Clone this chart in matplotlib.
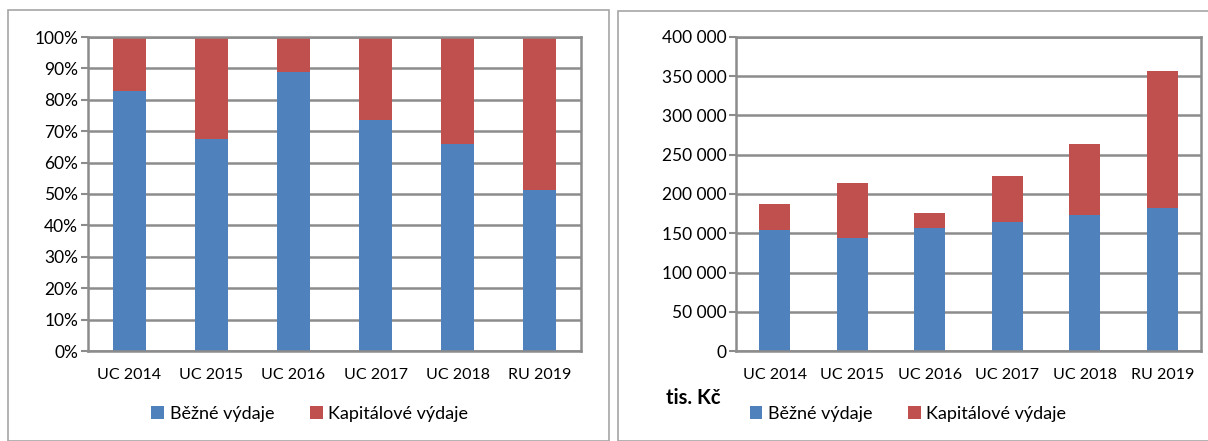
import matplotlib.pyplot as plt
import numpy as np
from matplotlib.patches import Rectangle
from matplotlib.ticker import FuncFormatter

plt.rcParams['font.family'] = ['Lato', 'DejaVu Sans']

years = ["UC 2014", "UC 2015", "UC 2016", "UC 2017", "UC 2018", "RU 2019"]
bezne = [154600, 144400, 156300, 163900, 173700, 182600]
kapitalove = [32200, 69200, 19900, 58600, 90400, 173700]
labels = ["Běžné výdaje", "Kapitálové výdaje"]

blue = "#4F81BD"
red = "#C0504D"
grid_col = "#8C8C8C"

fig = plt.figure(figsize=(12.08, 4.41), dpi=100)
W, H = 1208, 441

# panel frames
fig.patches.append(Rectangle((8 / W, 0), 601 / W, 1 - 10 / H, transform=fig.transFigure,
                             fill=False, edgecolor="#A6A6A6", lw=1.2))
fig.patches.append(Rectangle((618 / W, 0), 600 / W, 1 - 11 / H, transform=fig.transFigure,
                             fill=False, edgecolor="#A6A6A6", lw=1.2))

x = np.arange(len(years))
b = np.array(bezne, dtype=float)
k = np.array(kapitalove, dtype=float)
tot = b + k


def style(ax):
    ax.set_xlim(-0.5, len(years) - 0.5)
    ax.grid(axis="y", color=grid_col, lw=1.8)
    ax.set_axisbelow(True)
    for s in ax.spines.values():
        s.set_color(grid_col)
        s.set_linewidth(1.8)
    ax.tick_params(axis="y", length=5, width=1.5, color=grid_col, labelsize=12.5, pad=2)
    ax.tick_params(axis="x", length=0, labelsize=11.5, pad=12)


# left: 100 % stacked
ax1 = fig.add_axes([88 / W, 1 - 351 / H, 493 / W, 314 / H])
ax1.bar(x, b / tot * 100, 0.4, color=blue, label=labels[0])
ax1.bar(x, k / tot * 100, 0.4, bottom=b / tot * 100, color=red, label=labels[1])
ax1.set_ylim(0, 100)
ax1.set_yticks(np.arange(0, 101, 10))
ax1.yaxis.set_major_formatter(FuncFormatter(lambda v, p: f"{int(v)}%"))
ax1.set_xticks(x)
ax1.set_xticklabels(years)
style(ax1)
ax1.legend(loc="center", bbox_to_anchor=(0.45, -0.2), ncol=2, frameon=False,
           fontsize=13, handlelength=0.7, handleheight=0.7, handletextpad=0.3,
           columnspacing=2.0)

# right: absolute values
ax2 = fig.add_axes([736 / W, 1 - 351 / H, 465 / W, 314 / H])
ax2.bar(x, b, 0.4, color=blue, label=labels[0])
ax2.bar(x, k, 0.4, bottom=b, color=red, label=labels[1])
ax2.set_ylim(0, 400000)
ax2.set_yticks(np.arange(0, 400001, 50000))
ax2.yaxis.set_major_formatter(FuncFormatter(lambda v, p: f"{int(v):,}".replace(",", " ")))
ax2.set_xticks(x)
ax2.set_xticklabels(years)
style(ax2)
ax2.legend(loc="center", bbox_to_anchor=(0.37, -0.2), ncol=2, frameon=False,
           fontsize=13, handlelength=0.7, handleheight=0.7, handletextpad=0.3,
           columnspacing=2.0)
fig.text(693 / W, 1 - 398 / H, "tis. Kč", ha="center", va="center",
         fontsize=14.5, fontweight="bold")

fig.savefig("out.png", dpi=100)
